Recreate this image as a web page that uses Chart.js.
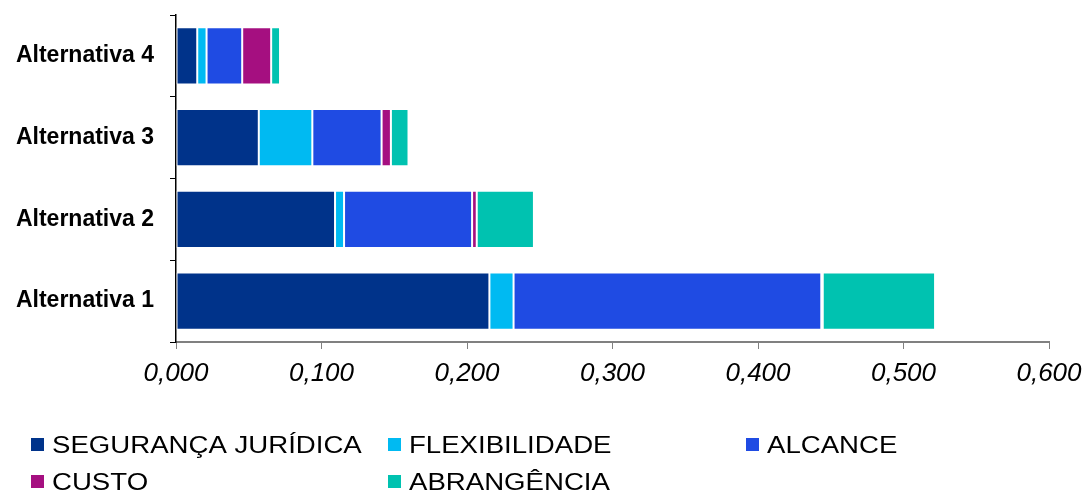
<!DOCTYPE html>
<html>
<head>
<meta charset="utf-8">
<style>
  html, body { margin: 0; padding: 0; background: #fff; }
  #wrap { position: relative; width: 1088px; height: 491px; }
</style>
<script src="https://cdn.jsdelivr.net/npm/chart.js@4/dist/chart.umd.min.js"></script>
</head>
<body>
<div id="wrap"><canvas id="chart" width="1088" height="491"></canvas></div>
<script>
// Categories (bottom to top) and the weighted score of each criterion
const categories = ['Alternativa 1', 'Alternativa 2', 'Alternativa 3', 'Alternativa 4'];
const seriesNames = ['SEGURANÇA JURÍDICA', 'FLEXIBILIDADE', 'ALCANCE', 'CUSTO', 'ABRANGÊNCIA'];
const seguranca    = [0.2154, 0.1093, 0.0569, 0.0146];
const flexibilidade = [0.0166, 0.0062, 0.0368, 0.0064];
const alcance      = [0.2115, 0.0880, 0.0476, 0.0245];
const custo        = [0.0010, 0.0032, 0.0064, 0.0199];
const abrangencia  = [0.0772, 0.0393, 0.0121, 0.0061];
const xTicks = [0, 0.1, 0.2, 0.3, 0.4, 0.5, 0.6];

const seriesValues = [seguranca, flexibilidade, alcance, custo, abrangencia];
const seriesColors = ['#00338A', '#00BAF2', '#1F4BE3', '#A50F80', '#00C2B0'];

const fmt = v => v.toFixed(3).replace('.', ',');

// Legend drawn in two rows below the axis, with fixed column slots
const legendSlots = [
  { col: 0, row: 0 }, { col: 1, row: 0 }, { col: 2, row: 0 },
  { col: 0, row: 1 }, { col: 1, row: 1 }
];
const legendCols = [31, 388, 746];
const legendRows = [438, 475];

const legendPlugin = {
  id: 'bottomLegend',
  afterDraw(chart) {
    const ctx = chart.ctx;
    ctx.save();
    ctx.font = '23px "Liberation Sans", Arial, sans-serif';
    ctx.textBaseline = 'alphabetic';
    chart.data.datasets.forEach((ds, i) => {
      const s = legendSlots[i];
      const x = legendCols[s.col];
      const y = legendRows[s.row];
      ctx.fillStyle = ds.backgroundColor;
      ctx.fillRect(x, y, 13, 13);
      ctx.fillStyle = '#000';
      ctx.save();
      ctx.translate(x + 21, y + 15);
      ctx.scale(1.2, 1);
      ctx.fillText(ds.label, 0, 0);
      ctx.restore();
    });
    ctx.restore();
  }
};

new Chart(document.getElementById('chart'), {
  type: 'bar',
  data: {
    labels: categories,
    datasets: seriesNames.map((name, i) => ({
      label: name,
      data: seriesValues[i],
      backgroundColor: seriesColors[i],
      borderColor: 'rgba(255,255,255,0.85)',
      borderWidth: 1,
      borderSkipped: false,
      categoryPercentage: 1.0,
      barPercentage: 0.7
    }))
  },
  options: {
    indexAxis: 'y',
    responsive: false,
    animation: false,
    layout: { padding: { top: 15, right: 39, bottom: 0, left: 0 } },
    plugins: {
      legend: { display: false },
      tooltip: { enabled: false }
    },
    scales: {
      x: {
        type: 'linear',
        stacked: true,
        min: 0,
        max: 0.6,
        afterBuildTicks(scale) { scale.ticks = xTicks.map(v => ({ value: v })); },
        afterFit(scale) {
          scale.height = 149;
          scale.paddingLeft = 0;
          scale.paddingRight = 0;
        },
        ticks: {
          callback: v => fmt(v),
          color: '#000',
          padding: 9,
          maxRotation: 0,
          font: { family: '"Liberation Sans", Arial, sans-serif', size: 26, style: 'italic' }
        },
        grid: { drawOnChartArea: false, tickLength: 7, color: '#808080', lineWidth: 1 },
        border: { color: '#808080', width: 2 }
      },
      y: {
        stacked: true,
        reverse: true,
        afterFit(scale) {
          scale.width = 176;
          scale.paddingTop = 0;
          scale.paddingBottom = 0;
        },
        ticks: {
          color: '#000',
          padding: 16,
          font: { family: '"Liberation Sans", Arial, sans-serif', size: 23, weight: 'bold' }
        },
        grid: { offset: true, drawOnChartArea: false, tickLength: 6, color: '#000', lineWidth: 1 },
        border: { color: '#000', width: 1.5 }
      }
    }
  },
  plugins: [legendPlugin]
});
</script>
</body>
</html>
